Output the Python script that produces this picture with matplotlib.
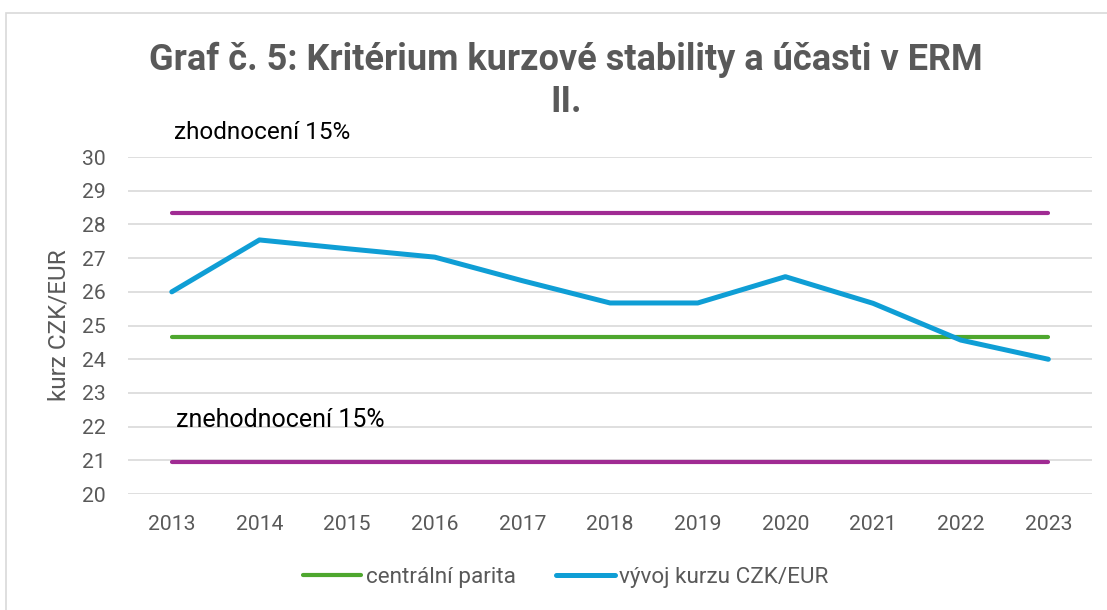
import matplotlib.pyplot as plt
from matplotlib.patches import Rectangle

plt.rcParams['font.family'] = ['Roboto', 'DejaVu Sans']

years = ['2013', '2014', '2015', '2016', '2017', '2018', '2019', '2020', '2021', '2022', '2023']
kurz = [26.00, 27.54, 27.28, 27.03, 26.33, 25.67, 25.67, 26.45, 25.66, 24.57, 24.00]
parita = [24.65] * len(years)
horni = [28.35] * len(years)     # zhodnocení 15%
dolni = [20.95] * len(years)     # znehodnocení 15%

grey = '#595959'
x = list(range(len(years)))

fig = plt.figure(figsize=(11.07, 6.10), dpi=100)
ax = fig.add_axes([0.1156, 0.19, 0.871, 0.5526])

# light frame of the chart area
fig.patches.append(Rectangle((0.005, -0.01), 1.0, 0.988, transform=fig.transFigure,
                             fill=False, edgecolor='#d9d9d9', linewidth=1.2))

ax.plot(x, horni, color='#A02B93', lw=3.0, solid_capstyle='round')
ax.plot(x, dolni, color='#A02B93', lw=3.0, solid_capstyle='round')
ax.plot(x, parita, color='#4EA72E', lw=3.0, solid_capstyle='round', label='centrální parita')
ax.plot(x, kurz, color='#0F9ED5', lw=3.6, solid_capstyle='round', label='vývoj kurzu CZK/EUR')

ax.set_xlim(-0.5, len(years) - 0.5)
ax.set_ylim(20, 30)
ax.set_yticks(range(20, 31))
ax.set_xticks(x)
ax.set_xticklabels(years)
ax.grid(axis='y', color='#d9d9d9', lw=1.2)
ax.set_axisbelow(True)
for s in ax.spines.values():
    s.set_visible(False)
ax.tick_params(length=0, colors=grey, labelsize=15.2, pad=15)
ax.tick_params(axis='y', pad=16)
ax.set_ylabel('kurz CZK/EUR', color=grey, fontsize=17.5, labelpad=8)

ax.text(0.03, 30.72, 'zhodnocení 15%', fontsize=17.5, color='black', va='center', clip_on=False)
ax.text(0.05, 22.2, 'znehodnocení 15%', fontsize=18, color='black', va='center')

fig.text(0.511, 0.867, 'Graf č. 5: Kritérium kurzové stability a účasti v ERM\nII.',
         ha='center', va='center', fontsize=26, fontweight='bold', color=grey, linespacing=1.2)

fig.legend(*ax.get_legend_handles_labels(), loc='center', bbox_to_anchor=(0.511, 0.054),
           ncol=2, frameon=False, fontsize=16.2, labelcolor=grey, handlelength=2.6,
           handletextpad=0.2, columnspacing=1.8)

fig.savefig('out.png', dpi=100)
